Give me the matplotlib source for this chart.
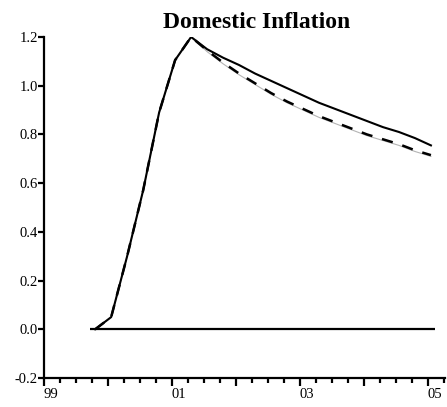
import numpy as np
import matplotlib
matplotlib.use('Agg')
import matplotlib.pyplot as plt
from matplotlib.ticker import MultipleLocator

# Dados trimestrais (1999T4 .. 2005T1)
n_trim = 22
datas = 1999.8 + 0.25 * np.arange(n_trim)

subida = [0.0, 0.05, 0.30, 0.57, 0.89, 1.105, 1.2]

serie_base = subida + [1.15, 1.115, 1.085, 1.05, 1.02, 0.99, 0.96, 0.93,
                       0.905, 0.88, 0.855, 0.83, 0.81, 0.785, 0.755]
serie_alt = subida + [1.145, 1.095, 1.05, 1.01, 0.97, 0.935, 0.905, 0.875,
                      0.85, 0.825, 0.80, 0.78, 0.76, 0.735, 0.715]
serie_cinza = subida + [1.14, 1.09, 1.045, 1.005, 0.965, 0.93, 0.90, 0.87,
                        0.845, 0.82, 0.795, 0.775, 0.755, 0.73, 0.71]

anos = [1999, 2000, 2001, 2002, 2003, 2004, 2005]
rotulos_anos = ['99', '', '01', '', '03', '', '05']
yticks = [-0.2, 0.0, 0.2, 0.4, 0.6, 0.8, 1.0, 1.2]

plt.rcParams['font.family'] = ['Liberation Serif', 'DejaVu Serif']

fig = plt.figure(figsize=(4.47, 4.07), dpi=100)
ax = fig.add_axes([44 / 447, 29 / 407, 401 / 447, 341 / 407])

ax.hlines(0, datas[0] - 0.08, datas[-1] + 0.06, color='black', linewidth=1.6)
ax.plot(datas, serie_cinza, color='#b4b4b4', linewidth=0.8)
ax.plot(datas, serie_alt, color='black', linewidth=1.8, linestyle=(0, (4.5, 4)))
ax.plot(datas, serie_base, color='black', linewidth=1.5)

ax.set_xlim(1999, 2005.27)
ax.set_ylim(-0.2, 1.2)

ax.spines['top'].set_visible(False)
ax.spines['right'].set_visible(False)
ax.spines['left'].set_linewidth(1.6)
ax.spines['bottom'].set_linewidth(1.6)

ax.set_xticks(anos)
ax.set_xticklabels(rotulos_anos)
for lab in ax.get_xticklabels():
    lab.set_horizontalalignment('left')
ax.xaxis.set_minor_locator(MultipleLocator(0.25))
ax.tick_params(axis='x', which='major', direction='out', length=6, width=1.6,
               pad=1.5, labelsize=10.5)
ax.tick_params(axis='x', which='minor', direction='out', length=3.5, width=1.6)

ax.set_yticks(yticks)
ax.set_yticklabels([f'{v:.1f}' for v in yticks])
ax.tick_params(axis='y', direction='out', length=4.5, width=1.6, pad=0,
               labelsize=10.5)

fig.text(257 / 447, (407 - 28) / 407, 'Domestic Inflation', ha='center',
         va='baseline', fontsize=17, fontweight='bold')

fig.savefig('out.png', dpi=100)
